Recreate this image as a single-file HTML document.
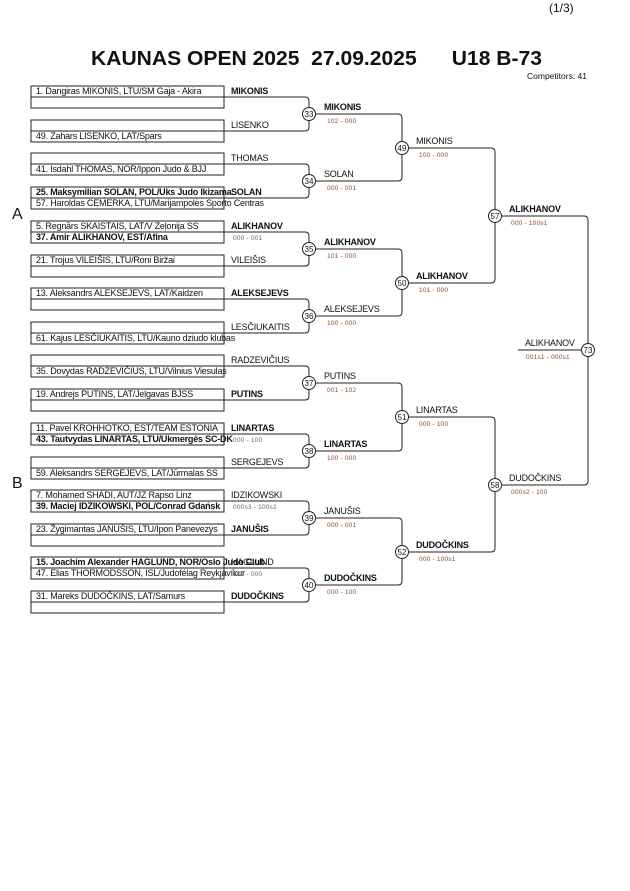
<!DOCTYPE html>
<html><head><meta charset="utf-8"><style>
html,body{margin:0;padding:0;background:#fff;}
svg{display:block;font-family:"Liberation Sans",Arial,sans-serif;}
.n{font-size:9px;letter-spacing:-0.2px;fill:#111;}
.b{font-weight:bold;}
.s{font-size:6.5px;fill:#8b4a2b;letter-spacing:0.2px;}
.g{font-size:6.5px;fill:#667;letter-spacing:0.2px;}
.c{font-size:8px;fill:#111;text-anchor:middle;}
</style></head><body>
<svg width="630" height="891" viewBox="0 0 630 891" xmlns="http://www.w3.org/2000/svg">
<rect width="630" height="891" fill="#fff"/>
<text x="549" y="12" font-size="12" fill="#111">(1/3)</text>
<text x="91" y="65" font-size="20" font-weight="bold" fill="#111" xml:space="preserve" textLength="451" lengthAdjust="spacingAndGlyphs">KAUNAS OPEN 2025  27.09.2025      U18 B-73</text>
<text x="527" y="79" font-size="8.5" fill="#111">Competitors: 41</text>
<text x="12" y="219" font-size="16" fill="#111">A</text>
<text x="12" y="488" font-size="16" fill="#111">B</text>

<g fill="none" stroke="#222" stroke-width="1">
<rect x="31" y="86" width="193" height="22"/><line x1="31" y1="97" x2="224" y2="97"/>
<rect x="31" y="120" width="193" height="22"/><line x1="31" y1="131" x2="224" y2="131"/>
<rect x="31" y="153" width="193" height="22"/><line x1="31" y1="164" x2="224" y2="164"/>
<rect x="31" y="187" width="193" height="22"/><line x1="31" y1="198" x2="224" y2="198"/>
<rect x="31" y="221" width="193" height="22"/><line x1="31" y1="232" x2="224" y2="232"/>
<rect x="31" y="255" width="193" height="22"/><line x1="31" y1="266" x2="224" y2="266"/>
<rect x="31" y="288" width="193" height="22"/><line x1="31" y1="299" x2="224" y2="299"/>
<rect x="31" y="322" width="193" height="22"/><line x1="31" y1="333" x2="224" y2="333"/>
<rect x="31" y="355" width="193" height="22"/><line x1="31" y1="366" x2="224" y2="366"/>
<rect x="31" y="389" width="193" height="22"/><line x1="31" y1="400" x2="224" y2="400"/>
<rect x="31" y="423" width="193" height="22"/><line x1="31" y1="434" x2="224" y2="434"/>
<rect x="31" y="457" width="193" height="22"/><line x1="31" y1="468" x2="224" y2="468"/>
<rect x="31" y="490" width="193" height="22"/><line x1="31" y1="501" x2="224" y2="501"/>
<rect x="31" y="524" width="193" height="22"/><line x1="31" y1="535" x2="224" y2="535"/>
<rect x="31" y="557" width="193" height="22"/><line x1="31" y1="568" x2="224" y2="568"/>
<rect x="31" y="591" width="193" height="22"/><line x1="31" y1="602" x2="224" y2="602"/>
<path d="M224 97H305Q309 97 309 101V127Q309 131 305 131H224"/>
<path d="M224 164H305Q309 164 309 168V194Q309 198 305 198H224"/>
<path d="M224 232H305Q309 232 309 236V262Q309 266 305 266H224"/>
<path d="M224 299H305Q309 299 309 303V329Q309 333 305 333H224"/>
<path d="M224 366H305Q309 366 309 370V396Q309 400 305 400H224"/>
<path d="M224 434H305Q309 434 309 438V464Q309 468 305 468H224"/>
<path d="M224 501H305Q309 501 309 505V531Q309 535 305 535H224"/>
<path d="M224 568H305Q309 568 309 572V598Q309 602 305 602H224"/>
<path d="M316 114H398Q402 114 402 118V177Q402 181 398 181H316"/>
<path d="M316 249H398Q402 249 402 253V312Q402 316 398 316H316"/>
<path d="M316 383H398Q402 383 402 387V447Q402 451 398 451H316"/>
<path d="M316 518H398Q402 518 402 522V581Q402 585 398 585H316"/>
<path d="M409 148H491Q495 148 495 152V279Q495 283 491 283H409"/>
<path d="M409 417H491Q495 417 495 421V548Q495 552 491 552H409"/>
<path d="M502 216H584Q588 216 588 220V481Q588 485 584 485H502"/>
<line x1="518" y1="350" x2="581" y2="350"/>
</g>
<g fill="#fff" stroke="#222" stroke-width="1">
<circle cx="309" cy="114" r="6.5"/><circle cx="309" cy="181" r="6.5"/><circle cx="309" cy="249" r="6.5"/><circle cx="309" cy="316" r="6.5"/>
<circle cx="309" cy="383" r="6.5"/><circle cx="309" cy="451" r="6.5"/><circle cx="309" cy="518" r="6.5"/><circle cx="309" cy="585" r="6.5"/>
<circle cx="402" cy="148" r="6.5"/><circle cx="402" cy="283" r="6.5"/><circle cx="402" cy="417" r="6.5"/><circle cx="402" cy="552" r="6.5"/>
<circle cx="495" cy="216" r="6.5"/><circle cx="495" cy="485" r="6.5"/><circle cx="588" cy="350" r="6.5"/>
</g>
<g class="c">
<text x="309" y="117">33</text><text x="309" y="184">34</text><text x="309" y="252">35</text><text x="309" y="319">36</text>
<text x="309" y="386">37</text><text x="309" y="454">38</text><text x="309" y="521">39</text><text x="309" y="588">40</text>
<text x="402" y="151">49</text><text x="402" y="286">50</text><text x="402" y="420">51</text><text x="402" y="555">52</text>
<text x="495" y="219">57</text><text x="495" y="488">58</text><text x="588" y="353">73</text>
</g>

<g class="n">
<text x="36" y="94">1. Dangiras MIKONIS, LTU/SM Gaja - Akira</text>
<text x="36" y="139">49. Zahars LISENKO, LAT/Spars</text>
<text x="36" y="172">41. Isdahl THOMAS, NOR/Ippon Judo &amp; BJJ</text>
<text x="36" y="195" class="b">25. Maksymilian SOLAN, POL/Uks Judo Ikizama</text>
<text x="36" y="206">57. Haroldas CEMERKA, LTU/Marijampolės Sporto Centras</text>
<text x="36" y="229">5. Regnārs SKAISTAIS, LAT/V Zeļonija SS</text>
<text x="36" y="240" class="b">37. Amir ALIKHANOV, EST/Afina</text>
<text x="36" y="263">21. Trojus VILEIŠIS, LTU/Roni Biržai</text>
<text x="36" y="296">13. Aleksandrs ALEKSEJEVS, LAT/Kaidzen</text>
<text x="36" y="341">61. Kajus LESČIUKAITIS, LTU/Kauno dziudo klubas</text>
<text x="36" y="374">35. Dovydas RADZEVIČIUS, LTU/Vilnius Viesulas</text>
<text x="36" y="397">19. Andrejs PUTINS, LAT/Jelgavas BJSS</text>
<text x="36" y="431">11. Pavel KROHHOTKO, EST/TEAM ESTONIA</text>
<text x="36" y="442" class="b">43. Tautvydas LINARTAS, LTU/Ukmergės SC-DK</text>
<text x="36" y="476">59. Aleksandrs SERGEJEVS, LAT/Jūrmalas SS</text>
<text x="36" y="498">7. Mohamed SHADI, AUT/JZ Rapso Linz</text>
<text x="36" y="509" class="b">39. Maciej IDZIKOWSKI, POL/Conrad Gdańsk</text>
<text x="36" y="532">23. Žygimantas JANUŠIS, LTU/Ipon Panevezys</text>
<text x="36" y="565" class="b">15. Joachim Alexander HAGLUND, NOR/Oslo Judo Club</text>
<text x="36" y="576">47. Elias THORMODSSON, ISL/Judofélag Reykjavíkur</text>
<text x="36" y="599">31. Mareks DUDOČKINS, LAT/Samurs</text>
</g>

<g class="n">
<text x="231" y="94" class="b">MIKONIS</text>
<text x="231" y="128">LISENKO</text>
<text x="231" y="161">THOMAS</text>
<text x="231" y="195" class="b">SOLAN</text>
<text x="231" y="229" class="b">ALIKHANOV</text>
<text x="231" y="263">VILEIŠIS</text>
<text x="231" y="296" class="b">ALEKSEJEVS</text>
<text x="231" y="330">LESČIUKAITIS</text>
<text x="231" y="363">RADZEVIČIUS</text>
<text x="231" y="397" class="b">PUTINS</text>
<text x="231" y="431" class="b">LINARTAS</text>
<text x="231" y="465">SERGEJEVS</text>
<text x="231" y="498">IDZIKOWSKI</text>
<text x="231" y="532" class="b">JANUŠIS</text>
<text x="231" y="565">HAGLUND</text>
<text x="231" y="599" class="b">DUDOČKINS</text>
</g>
<g class="g">
<text x="233" y="240">000 - 001</text>
<text x="233" y="442">000 - 100</text>
<text x="233" y="509">000s3 - 100s2</text>
<text x="233" y="576">100 - 000</text>
</g>

<g class="n">
<text x="324" y="110" class="b">MIKONIS</text>
<text x="324" y="177">SOLAN</text>
<text x="324" y="245" class="b">ALIKHANOV</text>
<text x="324" y="312">ALEKSEJEVS</text>
<text x="324" y="379">PUTINS</text>
<text x="324" y="447" class="b">LINARTAS</text>
<text x="324" y="514">JANUŠIS</text>
<text x="324" y="581" class="b">DUDOČKINS</text>
<text x="416" y="144">MIKONIS</text>
<text x="416" y="279" class="b">ALIKHANOV</text>
<text x="416" y="413">LINARTAS</text>
<text x="416" y="548" class="b">DUDOČKINS</text>
<text x="509" y="212" class="b">ALIKHANOV</text>
<text x="509" y="481">DUDOČKINS</text>
<text x="525" y="346">ALIKHANOV</text>
</g>
<g class="s">
<text x="327" y="123">102 - 000</text>
<text x="327" y="190">000 - 001</text>
<text x="327" y="258">101 - 000</text>
<text x="327" y="325">100 - 000</text>
<text x="327" y="392">001 - 102</text>
<text x="327" y="460">100 - 000</text>
<text x="327" y="527">000 - 001</text>
<text x="327" y="594">000 - 100</text>
<text x="419" y="157">100 - 000</text>
<text x="419" y="292">101 - 000</text>
<text x="419" y="426">000 - 100</text>
<text x="419" y="561">000 - 100s1</text>
<text x="511" y="225">000 - 100s1</text>
<text x="511" y="494">000s2 - 100</text>
<text x="526" y="359">001s1 - 000s1</text>
</g>
</svg>
</body></html>
